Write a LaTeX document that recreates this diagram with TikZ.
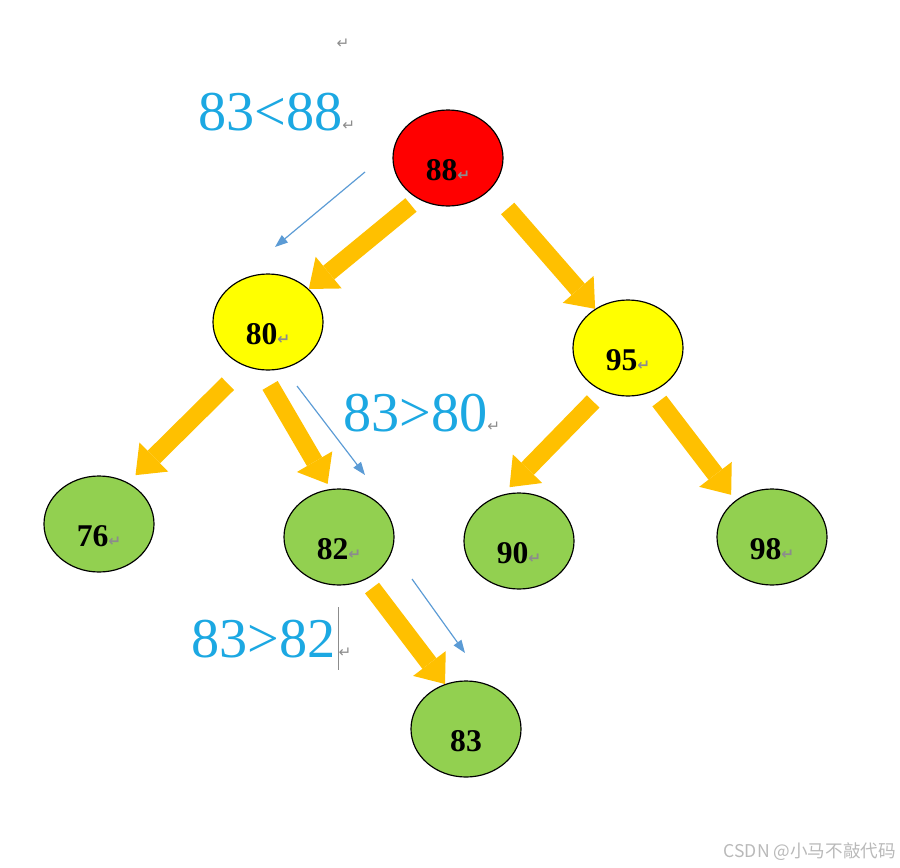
\documentclass[tikz,border=0pt]{standalone}
\usepackage{fontspec}
\setmainfont{Liberation Serif}
\newfontfamily\arrowfont{DejaVu Sans}
\newfontfamily\cjkfont{Noto Sans CJK SC}
\usepackage{xcolor}
\usetikzlibrary{arrows.meta, shapes.geometric}

\definecolor{rootred}{RGB}{255,0,0}
\definecolor{midyellow}{RGB}{255,255,0}
\definecolor{leafgreen}{RGB}{146,208,80}
\definecolor{pathorange}{RGB}{255,192,0}
\definecolor{cmpblue}{RGB}{28,168,226}
\definecolor{hintblue}{RGB}{91,155,213}
\definecolor{markgray}{RGB}{140,140,140}
\definecolor{wmgray}{RGB}{185,185,185}

\newcommand{\retmark}{{\arrowfont\fontsize{13}{13}\selectfont\textcolor{markgray}{↵}}}

\begin{document}
\begin{tikzpicture}[x=0.03cm, y=-0.03cm, line join=round,
    treenode/.style={ellipse, draw=black, line width=1pt, minimum width=3.3cm, minimum height=2.88cm, inner sep=0pt},
    numlabel/.style={font=\fontsize{27}{27}\selectfont\bfseries, inner sep=0pt, yshift=-10pt},
    fatarrow/.style={pathorange, line width=15pt, -{Triangle[length=22pt, width=35pt, line width=0pt]}},
    hintarrow/.style={hintblue, line width=1pt, -{Triangle[length=11pt, width=8pt]}},
    cmptext/.style={text=cmpblue, font=\fontsize{48}{48}\selectfont, inner sep=0pt, anchor=base west}]
    \useasboundingbox (0,0) rectangle (900,867);

    % Tree nodes
    \node[treenode, fill=rootred, label={[numlabel]center:88\retmark}] (n88) at (448,158) {};
    \node[treenode, fill=midyellow, label={[numlabel]center:80\retmark}] (n80) at (268,322) {};
    \node[treenode, fill=midyellow, label={[numlabel]center:95\retmark}] (n95) at (628,348) {};
    \node[treenode, fill=leafgreen, label={[numlabel]center:76\retmark}] (n76) at (99,524) {};
    \node[treenode, fill=leafgreen, label={[numlabel]center:82\retmark}] (n82) at (339,537) {};
    \node[treenode, fill=leafgreen, label={[numlabel]center:90\retmark}] (n90) at (519,541) {};
    \node[treenode, fill=leafgreen, label={[numlabel]center:98\retmark}] (n98) at (772,537) {};
    \node[treenode, fill=leafgreen, label={[numlabel]center:83}] (n83) at (466,729) {};

    % Tree edges
    \draw[fatarrow, shorten <=8pt] (n88.234) -- (n80.39);
    \draw[fatarrow, shorten <=22pt] (n88.324) -- (n95.130);
    \draw[fatarrow, shorten <=21pt, shorten >=9pt] (n80.243) -- (n76.55);
    \draw[fatarrow, shorten <=15pt, shorten >=5pt] (n80.262) -- (n82.100);
    \draw[fatarrow, shorten <=12pt, shorten >=9pt] (n95.240) -- (n90.110);
    \draw[fatarrow, shorten <=10pt, shorten >=6pt] (n95.299) -- (n98.135);
    \draw[fatarrow, shorten <=9pt] (n82.302) -- (n83.115);

    % Search path hints
    \coordinate (h1a) at (365,172);
    \coordinate (h1b) at (275,247);
    \coordinate (h2a) at (297,386);
    \coordinate (h2b) at (365,475);
    \coordinate (h3a) at (412,579);
    \coordinate (h3b) at (465,653);
    \draw[hintarrow] (h1a) -- (h1b);
    \draw[hintarrow] (h2a) -- (h2b);
    \draw[hintarrow] (h3a) -- (h3b);

    % Comparisons
    \node[cmptext] (cmp1) at (198,130) {83<88\retmark};
    \node[cmptext] (cmp2) at (343,431) {83>80\retmark};
    \node[cmptext] (cmp3) at (191,657) {83>82\hspace{2pt}\textcolor{markgray}{\rule[-11pt]{0.7pt}{54pt}}\retmark};

    \node[inner sep=0pt] (blankline) at (343,44) {\retmark};
    \node[anchor=east, inner sep=0pt, text=wmgray, font=\cjkfont\fontsize{15}{15}\selectfont] (watermark) at (896,852) {CSDN @小马不敲代码};
\end{tikzpicture}
\end{document}
